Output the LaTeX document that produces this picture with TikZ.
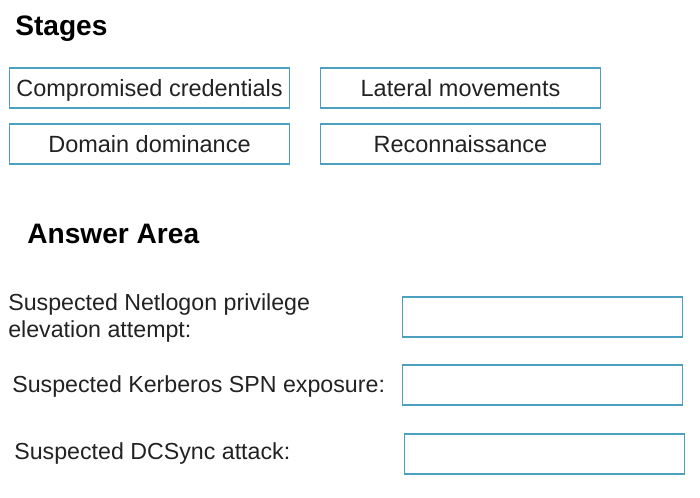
\documentclass[tikz,border=0pt]{standalone}
\usepackage{fontspec}
\setmainfont{Liberation Sans}
\usepackage{xcolor}
\usetikzlibrary{positioning}
\definecolor{boxline}{RGB}{75,160,192}
\definecolor{inktext}{RGB}{34,34,34}

\begin{document}
\begin{tikzpicture}[
        x=0.025cm, y=-0.025cm,
        box/.style={draw=boxline, line width=1.3pt, minimum width=7.0cm, minimum height=1.0cm, inner sep=0pt, text height=12pt, text depth=0pt, text=inktext, font=\fontsize{16.7}{19.9}\selectfont},
        stage/.style={box},
        slot/.style={box},
        heading/.style={anchor=base west, inner sep=0pt, text=black, font=\fontsize{20}{24}\selectfont\bfseries},
        question/.style={anchor=base west, inner sep=0pt, align=left, text=inktext, font=\fontsize{16.5}{19.84}\selectfont},
    ]
        \useasboundingbox (0,0) rectangle (700,498);

        % Stages
        \node[heading] (stages) at (15,36) {Stages};
        \node[stage] (cred) at (149.5,88) {Compromised credentials};
        \node[stage] (lateral) at (460.5,88) {Lateral movements};
        \node[stage] (domain) at (149.5,144) {Domain dominance};
        \node[stage] (recon) at (460.5,144) {Reconnaissance};

        % Answer area
        \node[heading] (answer) at (27,244) {Answer Area};
        \node[question] (netlogon) at (8,338) {Suspected Netlogon privilege\\elevation attempt:};
        \node[question] (kerberos) at (12,393) {Suspected Kerberos SPN exposure:};
        \node[question] (dcsync) at (14,460) {Suspected DCSync attack:};
        \node[slot] (slotA) at (542.5,317) {};
        \node[slot] (slotB) at (542.5,385) {};
        \node[slot] (slotC) at (544.5,454) {};
    \end{tikzpicture}
\end{document}
